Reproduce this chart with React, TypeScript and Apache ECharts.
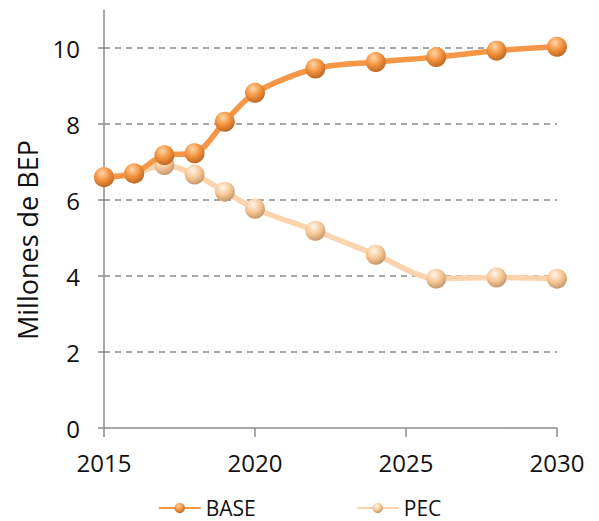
import React, { useEffect, useRef } from "react";
import * as echarts from "echarts";

const years = [2015, 2016, 2017, 2018, 2019, 2020, 2022, 2024, 2026, 2028, 2030];
const baseValues = [6.6, 6.7, 7.18, 7.23, 8.06, 8.82, 9.46, 9.63, 9.76, 9.93, 10.03];
const pecValues = [6.6, 6.7, 6.92, 6.67, 6.22, 5.77, 5.19, 4.56, 3.93, 3.96, 3.93];
const yTicks = [0, 2, 4, 6, 8, 10];
const xTicks = [2015, 2020, 2025, 2030];

const FONT = "'Open Sans', sans-serif";

function sphere(light: string, mid: string, dark: string) {
  return new echarts.graphic.RadialGradient(0.4, 0.3, 0.75, [
    { offset: 0, color: light },
    { offset: 0.5, color: mid },
    { offset: 1, color: dark },
  ]);
}

export default function App() {
  const ref = useRef<HTMLDivElement>(null);
  useEffect(() => {
    document.body.style.margin = "0";
    if (!ref.current) return;
    const chart = echarts.init(ref.current, undefined, { renderer: "svg" });
    chart.setOption({
      animation: false,
      backgroundColor: "#ffffff",
      grid: { left: 104, right: 42, top: 10, bottom: 93, containLabel: false },
      legend: {
        top: 497,
        left: "center",
        padding: 0,
        itemWidth: 42,
        itemHeight: 13,
        itemGap: 100,
        textStyle: { fontFamily: FONT, fontSize: 21, color: "#111", lineHeight: 22 },
        data: ["BASE", "PEC"],
      },
      graphic: [
        {
          type: "text",
          x: 27,
          y: 240,
          rotation: Math.PI / 2,
          style: {
            text: "Millones de BEP",
            font: `27px ${FONT}`,
            fill: "#111",
            textAlign: "center",
            textVerticalAlign: "middle",
          },
        },
      ],
      xAxis: {
        type: "value",
        min: 2015,
        max: 2030,
        interval: 5,
        axisLine: { show: true, lineStyle: { color: "#8c8c8c", width: 1.5 } },
        axisTick: { show: true, inside: false, length: 9, customValues: xTicks, lineStyle: { color: "#8c8c8c", width: 1.5 } },
        axisLabel: {
          customValues: xTicks,
          margin: 22,
          fontFamily: FONT,
          fontSize: 24,
          color: "#111",
          formatter: (v: number) => String(v),
        },
        splitLine: { show: false },
      },
      yAxis: {
        type: "value",
        min: 0,
        max: 11,
        interval: 2,
        axisLine: { show: true, lineStyle: { color: "#8c8c8c", width: 1.5 } },
        axisTick: { show: true, inside: false, length: 8, customValues: yTicks, lineStyle: { color: "#8c8c8c", width: 1.5, type: [6, 5] } },
        axisLabel: {
          customValues: yTicks,
          margin: 24,
          fontFamily: FONT,
          fontSize: 24,
          color: "#111",
        },
        splitLine: {
          show: true,
          showMinLine: false,
          showMaxLine: true,
          lineStyle: { color: "#8c8c8c", width: 1.5, type: [6, 5] },
        },
      },
      series: [
        {
          name: "BASE",
          type: "line",
          smooth: 0.3,
          data: years.map((y, i) => [y, baseValues[i]]),
          symbol: "circle",
          symbolSize: 20,
          lineStyle: { color: "#F79646", width: 5.5 },
          itemStyle: { color: sphere("#FFD7A6", "#F3923E", "#B7621D") },
          z: 3,
        },
        {
          name: "PEC",
          type: "line",
          smooth: 0.3,
          data: years.map((y, i) => [y, pecValues[i]]),
          symbol: "circle",
          symbolSize: 20,
          lineStyle: { color: "#FBD4AE", width: 5.5 },
          itemStyle: { color: sphere("#FFF5EA", "#F7C897", "#BF9066") },
          z: 2,
        },
      ],
    });
    return () => chart.dispose();
  }, []);
  return <div ref={ref} style={{ width: 599, height: 521 }} />;
}
